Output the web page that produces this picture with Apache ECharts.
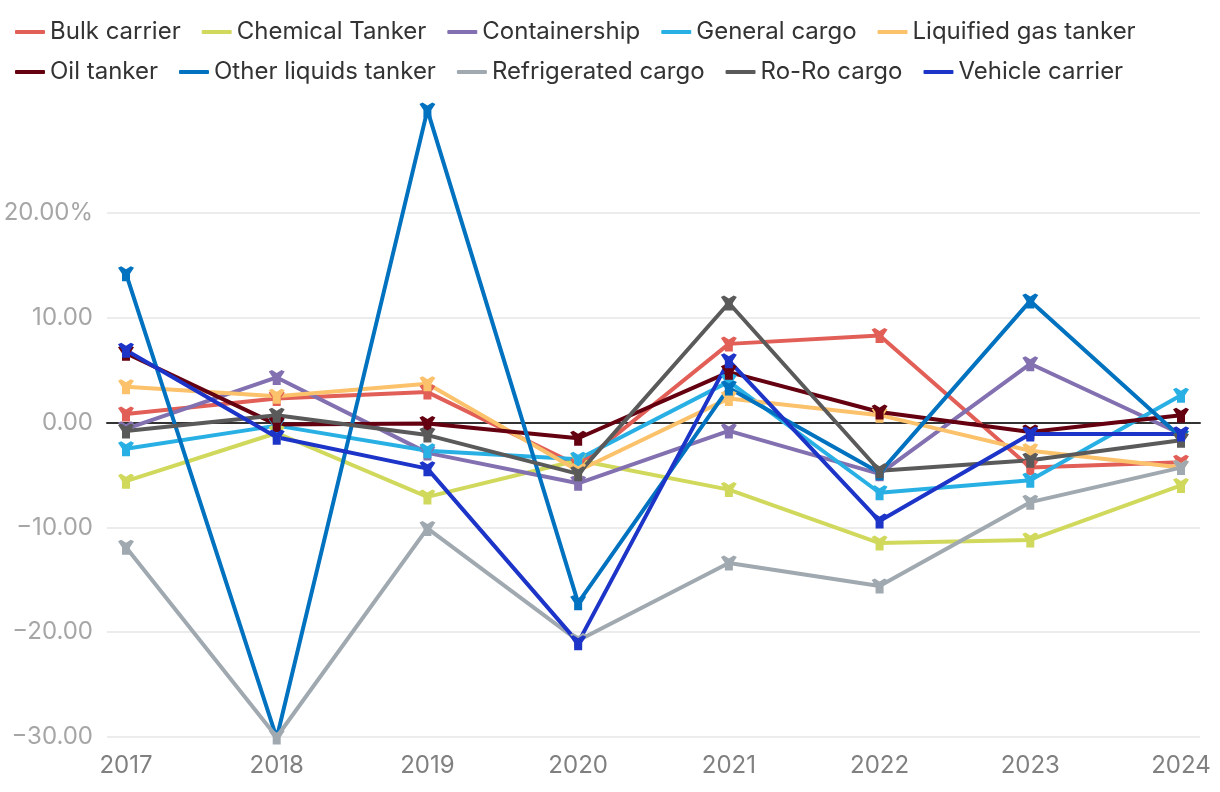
<!DOCTYPE html>
<html>
<head>
<meta charset="utf-8">
<script src="https://cdn.jsdelivr.net/npm/echarts@6/dist/echarts.min.js"></script>
<style>html,body{margin:0;padding:0;background:#fff}#c{width:1220px;height:792px}</style>
</head>
<body>
<div id="c"></div>
<script>
const years = ['2017','2018','2019','2020','2021','2022','2023','2024'];
const yTicks = [-30, -20, -10, 0, 10, 20];
const seriesNames = ['Bulk carrier','Chemical Tanker','Containership','General cargo','Liquified gas tanker','Oil tanker','Other liquids tanker','Refrigerated cargo','Ro-Ro cargo','Vehicle carrier'];
const colors = ['#e15f57','#d0d95c','#8270b0','#28b0e4','#fbc26b','#640010','#0072bf','#a0a9b0','#5a5a5a','#1c34c8'];

const bulkCarrier        = [0.8, 2.3, 2.9, -4.1, 7.5, 8.3, -4.3, -3.8];
const chemicalTanker     = [-5.6, -1.0, -7.1, -3.6, -6.4, -11.5, -11.2, -6.0];
const containership      = [-0.6, 4.3, -2.9, -5.8, -0.8, -4.9, 5.6, -1.1];
const generalCargo       = [-2.5, -0.3, -2.7, -3.5, 3.9, -6.7, -5.5, 2.6];
const liquifiedGasTanker = [3.4, 2.5, 3.7, -4.6, 2.3, 0.7, -2.7, -4.3];
const oilTanker          = [6.6, -0.2, -0.1, -1.5, 4.8, 1.0, -0.9, 0.7];
const otherLiquidsTanker = [14.2, -30.1, 29.8, -17.2, 3.3, -4.8, 11.6, -1.4];
const refrigeratedCargo  = [-11.9, -30.0, -10.1, -20.8, -13.4, -15.6, -7.6, -4.3];
const roRoCargo          = [-0.8, 0.7, -1.2, -4.9, 11.4, -4.6, -3.6, -1.7];
const vehicleCarrier     = [6.9, -1.4, -4.4, -21.0, 5.9, -9.4, -1.1, -1.1];

const allData = [bulkCarrier, chemicalTanker, containership, generalCargo, liquifiedGasTanker, oilTanker, otherLiquidsTanker, refrigeratedCargo, roRoCargo, vehicleCarrier];

const markerPath = 'path://M0,1 L2,0 L5,2 L8,0 L10,1 L7.5,5 L7.5,10 L2.5,10 L2.5,5 Z';
const FONT = 'Inter';

const legendBase = {
  left: 10, icon: 'roundRect', itemWidth: 30, itemHeight: 4, itemGap: 21,
  textStyle: {fontSize: 24, color: '#333', fontFamily: FONT}
};

const chart = echarts.init(document.getElementById('c'), null, {renderer: 'canvas'});
chart.setOption({
  animation: false,
  color: colors,
  textStyle: {fontFamily: FONT},
  legend: [
    Object.assign({}, legendBase, {top: 15, data: seriesNames.slice(0, 5)}),
    Object.assign({}, legendBase, {top: 55, data: seriesNames.slice(5)})
  ],
  grid: [
    {left: 107, right: 20, top: 213, bottom: 55},
    {left: 126, right: 39, top: 108, bottom: 55}
  ],
  xAxis: [
    {gridIndex: 0, type: 'value', min: 0, max: 1, axisLabel: {show: false}, axisTick: {show: false}, splitLine: {show: false},
     axisLine: {show: true, onZero: true, lineStyle: {color: '#333', width: 2}}},
    {gridIndex: 1, type: 'category', data: years, boundaryGap: false,
     axisLine: {show: false}, axisTick: {show: false},
     axisLabel: {fontSize: 24, color: '#808080', margin: 17, fontFamily: FONT}}
  ],
  yAxis: [
    {gridIndex: 0, type: 'value', min: yTicks[0], max: yTicks[yTicks.length-1], interval: 10,
     axisLine: {show: false}, axisTick: {show: false},
     splitLine: {lineStyle: {color: '#e6e6e6', width: 1.5}},
     axisLabel: {fontSize: 24, color: '#a6a6a6', margin: 14, fontFamily: FONT,
       formatter: v => (v === 20 ? '20.00%' : (v < 0 ? '\u2212' + Math.abs(v).toFixed(2) : v.toFixed(2)))}},
    {gridIndex: 1, type: 'value', min: -30, max: 30, show: false, splitLine: {show: false}}
  ],
  series: seriesNames.map((name, i) => ({
    name: name,
    type: 'line',
    xAxisIndex: 1, yAxisIndex: 1,
    data: allData[i],
    symbol: markerPath,
    symbolSize: [16, 15],
    showAllSymbol: true,
    lineStyle: {width: 4, color: colors[i]},
    itemStyle: {color: colors[i]},
    emphasis: {disabled: true}
  }))
});
</script>
</body>
</html>
